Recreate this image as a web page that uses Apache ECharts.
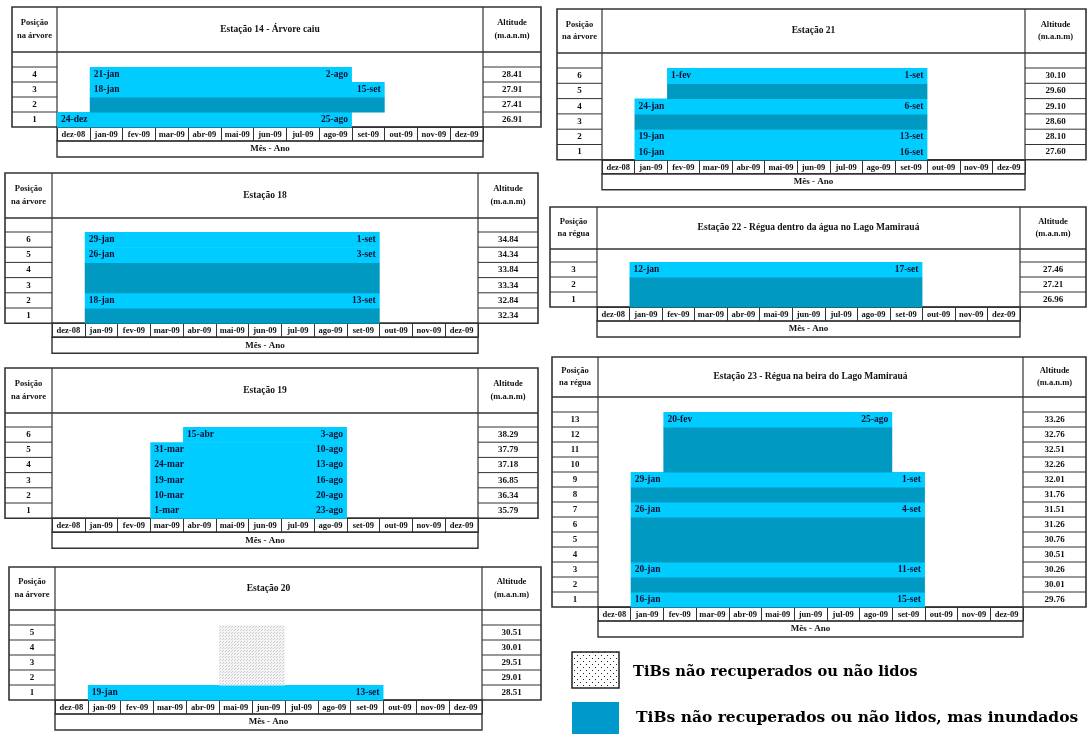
<!DOCTYPE html>
<html><head><meta charset="utf-8">
<script src="https://cdn.jsdelivr.net/npm/echarts@6/dist/echarts.min.js"></script>
<style>html,body{margin:0;padding:0;background:#fff}#c{width:1088px;height:734px}</style>
</head><body><div id="c"></div><script>
// ---- data ----
const months = ['dez-08','jan-09','fev-09','mar-09','abr-09','mai-09','jun-09','jul-09','ago-09','set-09','out-09','nov-09','dez-09'];

// Estação 14 (rows from position 1 upward)
const e14Pos = ['1','2','3','4'];
const e14Alt = ['26.91','27.41','27.91','28.41'];
const e14Kind = ['registro','inundado','registro','registro'];
const e14From = ['dez-08','jan-09','jan-09','jan-09'];
const e14To = ['ago-09','set-09','set-09','ago-09'];
const e14Start = ['24-dez','','18-jan','21-jan'];
const e14End = ['25-ago','','15-set','2-ago'];

// Estação 18
const e18Pos = ['1','2','3','4','5','6'];
const e18Alt = ['32.34','32.84','33.34','33.84','34.34','34.84'];
const e18Kind = ['inundado','registro','inundado','inundado','registro','registro'];
const e18From = ['jan-09','jan-09','jan-09','jan-09','jan-09','jan-09'];
const e18To = ['set-09','set-09','set-09','set-09','set-09','set-09'];
const e18Start = ['','18-jan','','','26-jan','29-jan'];
const e18End = ['','13-set','','','3-set','1-set'];

// Estação 19
const e19Pos = ['1','2','3','4','5','6'];
const e19Alt = ['35.79','36.34','36.85','37.18','37.79','38.29'];
const e19Kind = ['registro','registro','registro','registro','registro','registro'];
const e19From = ['mar-09','mar-09','mar-09','mar-09','mar-09','abr-09'];
const e19To = ['ago-09','ago-09','ago-09','ago-09','ago-09','ago-09'];
const e19Start = ['1-mar','10-mar','19-mar','24-mar','31-mar','15-abr'];
const e19End = ['23-ago','20-ago','16-ago','13-ago','10-ago','3-ago'];

// Estação 20
const e20Pos = ['1','2','3','4','5'];
const e20Alt = ['28.51','29.01','29.51','30.01','30.51'];
const e20Kind = ['registro','nao','nao','nao','nao'];
const e20From = ['jan-09','mai-09','mai-09','mai-09','mai-09'];
const e20To = ['set-09','jun-09','jun-09','jun-09','jun-09'];
const e20Start = ['19-jan','','','',''];
const e20End = ['13-set','','','',''];

// Estação 21
const e21Pos = ['1','2','3','4','5','6'];
const e21Alt = ['27.60','28.10','28.60','29.10','29.60','30.10'];
const e21Kind = ['registro','registro','inundado','registro','inundado','registro'];
const e21From = ['jan-09','jan-09','jan-09','jan-09','fev-09','fev-09'];
const e21To = ['set-09','set-09','set-09','set-09','set-09','set-09'];
const e21Start = ['16-jan','19-jan','','24-jan','','1-fev'];
const e21End = ['16-set','13-set','','6-set','','1-set'];

// Estação 22
const e22Pos = ['1','2','3'];
const e22Alt = ['26.96','27.21','27.46'];
const e22Kind = ['inundado','inundado','registro'];
const e22From = ['jan-09','jan-09','jan-09'];
const e22To = ['set-09','set-09','set-09'];
const e22Start = ['','','12-jan'];
const e22End = ['','','17-set'];

// Estação 23
const e23Pos = ['1','2','3','4','5','6','7','8','9','10','11','12','13'];
const e23Alt = ['29.76','30.01','30.26','30.51','30.76','31.26','31.51','31.76','32.01','32.26','32.51','32.76','33.26'];
const e23Kind = ['registro','inundado','registro','inundado','inundado','inundado','registro','inundado','registro','inundado','inundado','inundado','registro'];
const e23From = ['jan-09','jan-09','jan-09','jan-09','jan-09','jan-09','jan-09','jan-09','jan-09','fev-09','fev-09','fev-09','fev-09'];
const e23To = ['set-09','set-09','set-09','set-09','set-09','set-09','set-09','set-09','set-09','ago-09','ago-09','ago-09','ago-09'];
const e23Start = ['16-jan','','20-jan','','','','26-jan','','29-jan','','','','20-fev'];
const e23End = ['15-set','','11-set','','','','4-set','','1-set','','','','25-ago'];

const legendLabels = ['TiBs não recuperados ou não lidos','TiBs não recuperados ou não lidos, mas inundados'];

// ---- styling / layout ----
const FONT = '"Liberation Serif", "DejaVu Serif", serif';
const C_REG = '#00CCFF', C_INU = '#0099C2', LINE = '#333';

function makePattern(size, bg, dot, dots) {
  const cv = document.createElement('canvas');
  cv.width = size; cv.height = size;
  const ctx = cv.getContext('2d');
  ctx.fillStyle = bg; ctx.fillRect(0, 0, size, size);
  ctx.fillStyle = dot;
  dots.forEach(d => ctx.fillRect(d[0], d[1], 1, 1));
  return cv;
}
const grayPat = { type: 'pattern', image: makePattern(3, '#f4f4f4', '#cccccc', [[0,0],[1,2]]), repeat: 'repeat' };
const legPat = { type: 'pattern', image: makePattern(6, '#ffffff', '#222222', [[1,1],[4,4]]), repeat: 'repeat' };

const panels = [
  {title:'Estação 14 - Árvore caiu', head:'Posição\nna árvore', L:12,T:7,H:52,cl:57,cr:483,R:541,rt:67,rh:15,
   pos:e14Pos,alt:e14Alt,kind:e14Kind,from:e14From,to:e14To,st:e14Start,en:e14End},
  {title:'Estação 18', head:'Posição\nna árvore', L:5,T:173,H:218,cl:52,cr:478,R:538,rt:232,rh:15.2,
   pos:e18Pos,alt:e18Alt,kind:e18Kind,from:e18From,to:e18To,st:e18Start,en:e18End},
  {title:'Estação 19', head:'Posição\nna árvore', L:5,T:368,H:413,cl:52,cr:478,R:538,rt:427,rh:15.2,
   pos:e19Pos,alt:e19Alt,kind:e19Kind,from:e19From,to:e19To,st:e19Start,en:e19End},
  {title:'Estação 20', head:'Posição\nna árvore', L:9,T:567,H:610,cl:55,cr:482,R:541,rt:625,rh:15,
   pos:e20Pos,alt:e20Alt,kind:e20Kind,from:e20From,to:e20To,st:e20Start,en:e20End},
  {title:'Estação 21', head:'Posição\nna árvore', L:557,T:9,H:53,cl:602,cr:1025,R:1086,rt:68,rh:15.3,
   pos:e21Pos,alt:e21Alt,kind:e21Kind,from:e21From,to:e21To,st:e21Start,en:e21End},
  {title:'Estação 22 - Régua dentro da água no Lago Mamirauá', head:'Posição\nna régua', L:550,T:207,H:249,cl:597,cr:1020,R:1086,rt:262,rh:15,
   pos:e22Pos,alt:e22Alt,kind:e22Kind,from:e22From,to:e22To,st:e22Start,en:e22End},
  {title:'Estação 23 - Régua na beira do Lago Mamirauá', head:'Posição\nna régua', L:552,T:357,H:397,cl:598,cr:1023,R:1086,rt:412,rh:15,
   pos:e23Pos,alt:e23Alt,kind:e23Kind,from:e23From,to:e23To,st:e23Start,en:e23End}
];
const MH = 14, AH = 16;

const grid = [], xAxis = [], yAxis = [], series = [], graphics = [];
function line(x1,y1,x2,y2,w){ graphics.push({type:'line',silent:true,shape:{x1,y1,x2,y2},style:{stroke:LINE,lineWidth:w||1}}); }
function rect(x,y,w,h,lw,fill){ graphics.push({type:'rect',silent:true,shape:{x,y,width:w,height:h},style:{stroke:LINE,lineWidth:lw||1,fill:fill||'none'}}); }
function text(x,y,t,size,align,weight){ graphics.push({type:'text',silent:true,x,y,style:{text:t,font:(weight||'bold')+' '+size+'px '+FONT,fill:'#111',textAlign:align||'center',textVerticalAlign:'middle',lineHeight:size+4}}); }

panels.forEach((p, gi) => {
  const N = p.pos.length, B = p.rt + N * p.rh;
  grid.push({left:p.cl, top:p.rt, width:p.cr-p.cl, height:N*p.rh, containLabel:false});
  xAxis.push({type:'category', gridIndex:gi, data:months, boundaryGap:true, position:'bottom',
    axisLine:{show:true, lineStyle:{color:LINE, width:1}},
    axisTick:{show:true, interval:0, length:MH, lineStyle:{color:LINE, width:1}},
    axisLabel:{interval:0, margin:3, fontSize:8.5, fontWeight:'bold', fontFamily:FONT, color:'#111', verticalAlign:'top'},
    splitLine:{show:false}});
  yAxis.push({type:'category', gridIndex:gi, data:p.pos, position:'left', boundaryGap:true,
    axisLine:{show:false}, axisTick:{show:false}, splitLine:{show:false},
    axisLabel:{interval:0, margin:(p.cl-p.L)/2, align:'center', fontSize:9, fontWeight:'bold', fontFamily:FONT, color:'#111'}});
  yAxis.push({type:'category', gridIndex:gi, data:p.alt, position:'right', boundaryGap:true,
    axisLine:{show:false}, axisTick:{show:false}, splitLine:{show:false},
    axisLabel:{interval:0, margin:(p.R-p.cr)/2, align:'center', fontSize:9, fontWeight:'bold', fontFamily:FONT, color:'#111'}});
  const data = p.pos.map((_, i) => [months.indexOf(p.from[i]), months.indexOf(p.to[i]), i]);
  series.push({type:'custom', xAxisIndex:gi, yAxisIndex:gi*2, clip:false, silent:true,
    encode:{x:[0,1], y:2}, data:data,
    renderItem:function(params, api){
      const i = params.dataIndex;
      const a = api.coord([api.value(0), api.value(2)]);
      const b = api.coord([api.value(1), api.value(2)]);
      const s = api.size([1, 1]);
      const x = a[0] - s[0]/2, w = b[0] - a[0] + s[0], y = a[1] - s[1]/2, h = s[1];
      const k = p.kind[i];
      const fill = k === 'registro' ? C_REG : (k === 'inundado' ? C_INU : grayPat);
      const children = [{type:'rect', shape:{x:x, y:y, width:w, height:h+0.5}, style:{fill:fill, stroke:null}}];
      const f = 'bold 9.5px ' + FONT;
      if (p.st[i]) children.push({type:'text', x:x+4, y:a[1], style:{text:p.st[i], font:f, fill:'#101030', textAlign:'left', textVerticalAlign:'middle'}});
      if (p.en[i]) children.push({type:'text', x:x+w-4, y:a[1], style:{text:p.en[i], font:f, fill:'#101030', textAlign:'right', textVerticalAlign:'middle'}});
      return {type:'group', children:children};
    }});
  // table chrome
  rect(p.L, p.T, p.R-p.L, B-p.T, 1.6);
  line(p.L, p.H, p.R, p.H, 1.4);
  line(p.cl, p.T, p.cl, B, 1.2);
  line(p.cr, p.T, p.cr, B, 1.2);
  for (let r = 0; r < N; r++) {
    const yy = p.rt + r * p.rh;
    line(p.L, yy, p.cl, yy, r === 0 ? 1.2 : 1);
    line(p.cr, yy, p.R, yy, r === 0 ? 1.2 : 1);
  }
  rect(p.cl, B, p.cr-p.cl, MH, 1.2);
  rect(p.cl, B+MH, p.cr-p.cl, AH, 1.4);
  text((p.L+p.cl)/2, (p.T+p.H)/2, p.head, 8.5);
  text((p.cl+p.cr)/2, (p.T+p.H)/2, p.title, 9.5);
  text((p.cr+p.R)/2, (p.T+p.H)/2, 'Altitude\n(m.a.n.m)', 8.5);
  text((p.cl+p.cr)/2, B+MH+AH/2, 'Mês - Ano', 9);
});

// legend
graphics.push({type:'rect',silent:true,shape:{x:572,y:652,width:47,height:36},style:{fill:legPat,stroke:'#222',lineWidth:1.5}});
graphics.push({type:'rect',silent:true,shape:{x:572,y:702,width:47,height:40},style:{fill:'#0099CC',stroke:null}});
graphics.push({type:'text',silent:true,x:633,y:672,style:{text:legendLabels[0],font:'bold 14.7px "DejaVu Serif", serif',fill:'#000',textAlign:'left',textVerticalAlign:'middle'}});
graphics.push({type:'text',silent:true,x:636,y:718,style:{text:legendLabels[1],font:'bold 15.5px "DejaVu Serif", serif',fill:'#000',textAlign:'left',textVerticalAlign:'middle'}});

const chart = echarts.init(document.getElementById('c'), null, {renderer:'canvas'});
chart.setOption({backgroundColor:'#fff', animation:false, grid, xAxis, yAxis, series, graphic:{elements:graphics}});
</script></body></html>
